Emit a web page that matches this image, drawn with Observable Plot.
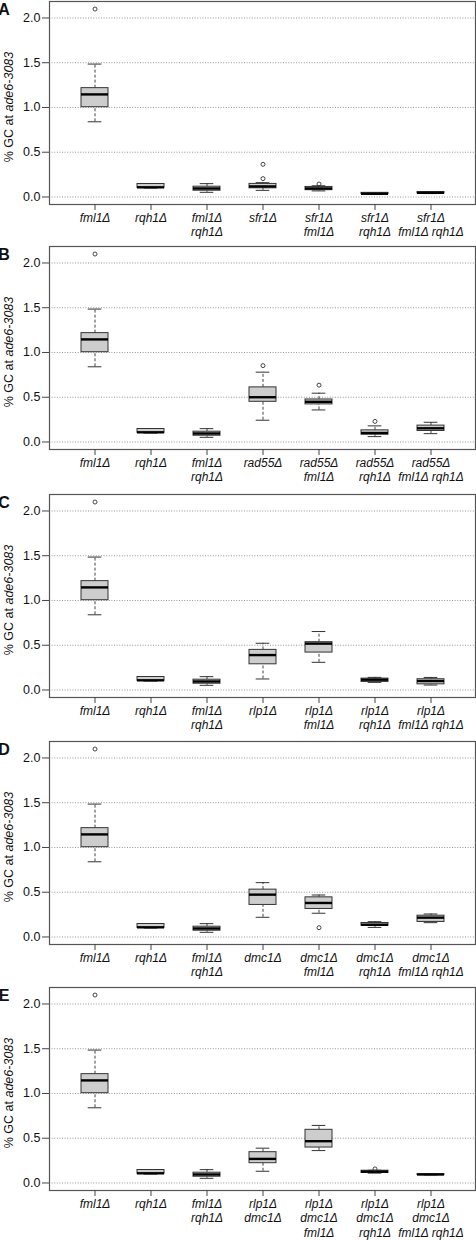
<!DOCTYPE html>
<html>
<head>
<meta charset="utf-8">
<script src="https://cdn.jsdelivr.net/npm/d3@7"></script>
<script src="https://cdn.jsdelivr.net/npm/@observablehq/plot@0.6"></script>
<style>
  html, body { margin: 0; padding: 0; background: white; }
  #chart { width: 476px; }
  #chart svg { display: block; }
</style>
</head>
<body>
<div id="chart"></div>
<script>
// ---- data: [label, lowerWhisker, Q1, median, Q3, upperWhisker] ----
const panelLetters = ["A", "B", "C", "D", "E"];
const yTicks = [0, 0.5, 1.0, 1.5, 2.0];

const controlStats = [
  ["fml1Δ", 0.84, 1.003, 1.146, 1.216, 1.485],
  ["rqh1Δ", 0.10, 0.102, 0.108, 0.145, 0.148],
  ["fml1Δ\nrqh1Δ", 0.052, 0.07, 0.095, 0.115, 0.149]
];
const controlOutliers = [["fml1Δ", 2.1]];

const sfr1Stats = [
  ["sfr1Δ", 0.074, 0.097, 0.118, 0.146, 0.16],
  ["sfr1Δ\nfml1Δ", 0.068, 0.076, 0.095, 0.112, 0.125],
  ["sfr1Δ\nrqh1Δ", 0.03, 0.032, 0.036, 0.046, 0.048],
  ["sfr1Δ\nfml1Δ rqh1Δ", 0.038, 0.04, 0.047, 0.055, 0.058]
];
const sfr1Outliers = [["sfr1Δ", 0.205], ["sfr1Δ", 0.365], ["sfr1Δ\nfml1Δ", 0.145]];

const rad55Stats = [
  ["rad55Δ", 0.243, 0.449, 0.50, 0.61, 0.78],
  ["rad55Δ\nfml1Δ", 0.358, 0.42, 0.449, 0.475, 0.545],
  ["rad55Δ\nrqh1Δ", 0.06, 0.082, 0.10, 0.13, 0.18],
  ["rad55Δ\nfml1Δ rqh1Δ", 0.093, 0.123, 0.153, 0.183, 0.22]
];
const rad55Outliers = [["rad55Δ", 0.853], ["rad55Δ\nfml1Δ", 0.635], ["rad55Δ\nrqh1Δ", 0.23]];

const rlp1Stats = [
  ["rlp1Δ", 0.123, 0.287, 0.39, 0.448, 0.522],
  ["rlp1Δ\nfml1Δ", 0.309, 0.418, 0.518, 0.534, 0.653],
  ["rlp1Δ\nrqh1Δ", 0.085, 0.09, 0.115, 0.127, 0.141],
  ["rlp1Δ\nfml1Δ rqh1Δ", 0.055, 0.063, 0.10, 0.12, 0.14]
];
const rlp1Outliers = [];

const dmc1Stats = [
  ["dmc1Δ", 0.22, 0.358, 0.473, 0.529, 0.607],
  ["dmc1Δ\nfml1Δ", 0.265, 0.313, 0.38, 0.443, 0.469],
  ["dmc1Δ\nrqh1Δ", 0.107, 0.126, 0.137, 0.156, 0.171],
  ["dmc1Δ\nfml1Δ rqh1Δ", 0.16, 0.168, 0.216, 0.238, 0.257]
];
const dmc1Outliers = [["dmc1Δ\nfml1Δ", 0.104]];

const rlp1dmc1Stats = [
  ["rlp1Δ\ndmc1Δ", 0.131, 0.221, 0.269, 0.344, 0.389],
  ["rlp1Δ\ndmc1Δ\nfml1Δ", 0.362, 0.396, 0.467, 0.594, 0.643],
  ["rlp1Δ\ndmc1Δ\nrqh1Δ", 0.11, 0.112, 0.127, 0.137, 0.142],
  ["rlp1Δ\ndmc1Δ\nfml1Δ rqh1Δ", 0.09, 0.09, 0.095, 0.098, 0.10]
];
const rlp1dmc1Outliers = [["rlp1Δ\ndmc1Δ\nrqh1Δ", 0.157]];

const panelStats = [sfr1Stats, rad55Stats, rlp1Stats, dmc1Stats, rlp1dmc1Stats];
const panelOutliers = [sfr1Outliers, rad55Outliers, rlp1Outliers, dmc1Outliers, rlp1dmc1Outliers];
const panelHeights = [245, 248, 247, 246, 254];

// ---- drawing ----
const FONT = "'Liberation Sans', Arial, Helvetica, sans-serif";
const container = document.getElementById("chart");

panelLetters.forEach((letter, i) => {
  const rows = controlStats.concat(panelStats[i]).map(r => ({
    g: r[0], lo: r[1], q1: r[2], med: r[3], q3: r[4], hi: r[5]
  }));
  const outs = controlOutliers.concat(panelOutliers[i]).map(r => ({g: r[0], v: r[1]}));
  const domain = rows.map(d => d.g);
  const h = panelHeights[i];
  const marginTop = 1;
  const frameH = 203;

  const svg = Plot.plot({
    width: 476,
    height: h,
    marginTop,
    marginBottom: h - marginTop - frameH,
    marginLeft: 49,
    marginRight: 1,
    style: {fontFamily: FONT, fontSize: "12.5px", color: "#111", background: "white", overflow: "visible"},
    x: {type: "band", domain, paddingInner: 0.52, paddingOuter: 0.54},
    y: {domain: [-0.084, 2.184]},
    marks: [
      Plot.gridY(yTicks, {stroke: "#8a8a8a", strokeOpacity: 1, strokeDasharray: "1,1.6", strokeWidth: 0.9}),
      // whiskers (dashed)
      Plot.ruleX(rows, {x: "g", y1: "q3", y2: "hi", stroke: "#444", strokeDasharray: "3,2", strokeWidth: 1}),
      Plot.ruleX(rows, {x: "g", y1: "lo", y2: "q1", stroke: "#444", strokeDasharray: "3,2", strokeWidth: 1}),
      // staples
      Plot.tickY(rows, {x: "g", y: "hi", stroke: "#333", strokeWidth: 1, insetLeft: 6.7, insetRight: 6.7}),
      Plot.tickY(rows, {x: "g", y: "lo", stroke: "#333", strokeWidth: 1, insetLeft: 6.7, insetRight: 6.7}),
      // boxes
      Plot.barY(rows, {x: "g", y1: "q1", y2: "q3", fill: "#cdcdcd", stroke: "#333", strokeWidth: 1}),
      // medians
      Plot.tickY(rows, {x: "g", y: "med", stroke: "#000", strokeWidth: 2.4}),
      // outliers
      Plot.dot(outs, {x: "g", y: "v", r: 2, stroke: "#333", fill: "none", strokeWidth: 0.9}),
      Plot.frame({stroke: "#555", strokeWidth: 1.2}),
      Plot.axisY(yTicks, {tickSize: 7, tickPadding: 2, tickFormat: d3.format(".1f"), label: null, stroke: "#444", fontSize: 12.5}),
      Plot.axisX({tickSize: 6, tickPadding: 1, label: null, stroke: "#444", fontStyle: "italic", lineHeight: 1.2, fontSize: 12})
    ]
  });

  const s = d3.select(svg);
  // panel letter
  s.append("text")
    .attr("x", 4).attr("y", 15)
    .attr("font-family", FONT).attr("font-weight", "bold").attr("font-size", 16)
    .attr("fill", "#111")
    .text(letter);
  // y-axis title with italic allele name
  const yl = s.append("text")
    .attr("transform", `translate(9,${marginTop + 106}) rotate(-90)`)
    .attr("text-anchor", "middle")
    .attr("dominant-baseline", "central")
    .attr("font-family", FONT).attr("font-size", 12.5)
    .attr("fill", "#111");
  yl.append("tspan").text("% GC at ");
  yl.append("tspan").attr("font-style", "italic").text("ade6-3083");

  container.appendChild(svg);
});
</script>
</body>
</html>
